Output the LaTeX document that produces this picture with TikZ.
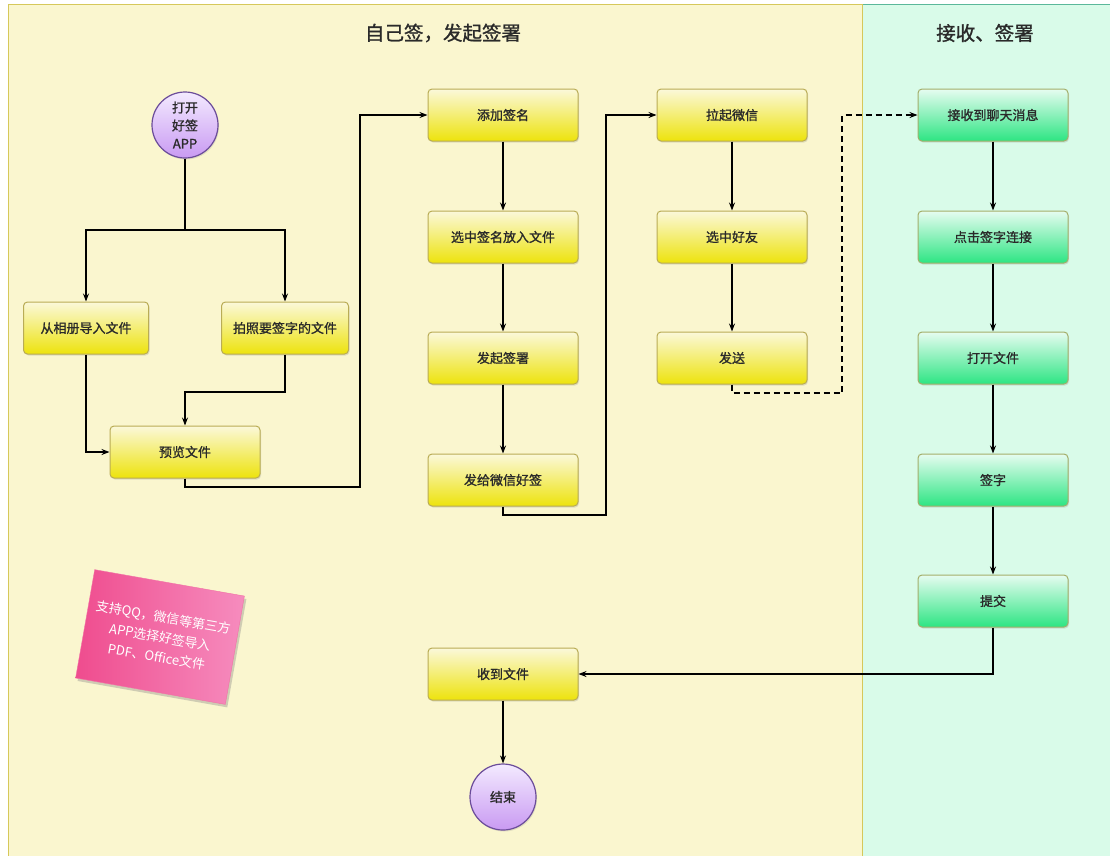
\documentclass[tikz,border=0pt]{standalone}
\usepackage{fontspec}
\setmainfont{Noto Sans CJK SC}
\newfontfamily\medfont{Noto Sans CJK SC}[FakeBold=1.2]
\usetikzlibrary{arrows.meta,shadows}
\definecolor{laneY}{HTML}{FAF6CF}
\definecolor{laneG}{HTML}{D9FBE9}
\definecolor{laneYb}{HTML}{D6C85A}
\definecolor{laneGb}{HTML}{5BB89A}
\definecolor{boxYt}{HTML}{FBF8DA}
\definecolor{boxYb}{HTML}{EDE30C}
\definecolor{boxYd}{HTML}{B9AC55}
\definecolor{boxGt}{HTML}{E6FCF0}
\definecolor{boxGb}{HTML}{2DE583}
\definecolor{boxGd}{HTML}{A3AE6A}
\definecolor{circT}{HTML}{F3EAFF}
\definecolor{circB}{HTML}{C99AF2}
\definecolor{circD}{HTML}{6B4C9A}
\definecolor{noteA}{HTML}{EF4C8E}
\definecolor{noteB}{HTML}{F68CBE}
\definecolor{txt}{HTML}{2A2A2A}
\tikzset{
  box/.style={line width=1pt, rounded corners=4pt, minimum height=52pt,
    font=\medfont\fontsize{13}{15}\selectfont, text=txt, inner sep=2pt,
    drop shadow={opacity=0.22, shadow xshift=1pt, shadow yshift=-1.5pt}},
  ybox/.style={box, draw=boxYd, top color=boxYt, bottom color=boxYb, minimum width=150pt},
  gbox/.style={box, draw=boxGd, top color=boxGt, bottom color=boxGb, minimum width=150pt},
  term/.style={circle, draw=circD, line width=1.2pt, minimum size=66pt, inner sep=0pt,
    top color=circT, bottom color=circB, align=center, text=txt,
    font=\medfont\fontsize{13}{18}\selectfont,
    drop shadow={opacity=0.2, shadow xshift=1pt, shadow yshift=-1.5pt}},
  flow/.style={-{Stealth[length=8pt,width=6pt]}, line width=1.1pt, black},
  plain/.style={line width=1.1pt, black},
  lanetitle/.style={font=\medfont\fontsize{19.5}{22}\selectfont, text=txt}
}
\begin{document}
\begin{tikzpicture}[x=1pt,y=1pt]
\useasboundingbox (0,0) rectangle (1110,-855);
\fill[white] (0,0) rectangle (1110,-855);
% lanes
\draw[fill=laneY, draw=laneYb, line width=1pt] (8,-4) rectangle (862,-858);
\draw[fill=laneG, draw=laneGb, line width=1pt] (862,-4) rectangle (1112,-858);
\draw[laneYb, line width=1pt] (862,-4) -- (862,-858);
\node[lanetitle] (t1) at (443,-33) {自己签，发起签署};
\node[lanetitle] (t2) at (985,-33) {接收、签署};

% nodes
\node[term] (start) at (185,-125) {打开\\好签\\APP};
\node[ybox, minimum width=125pt] (a1) at (86,-328) {从相册导入文件};
\node[ybox, minimum width=127pt] (a2) at (285,-328) {拍照要签字的文件};
\node[ybox] (pv) at (185,-452) {预览文件};
\node[ybox] (b1) at (503,-115) {添加签名};
\node[ybox] (b2) at (503,-237) {选中签名放入文件};
\node[ybox] (b3) at (503,-358) {发起签署};
\node[ybox] (b4) at (503,-480) {发给微信好签};
\node[ybox] (c1) at (732,-115) {拉起微信};
\node[ybox] (c2) at (732,-237) {选中好友};
\node[ybox] (c3) at (732,-358) {发送};
\node[gbox] (d1) at (993,-115) {接收到聊天消息};
\node[gbox] (d2) at (993,-237) {点击签字连接};
\node[gbox] (d3) at (993,-358) {打开文件};
\node[gbox] (d4) at (993,-480) {签字};
\node[gbox] (d5) at (993,-601) {提交};
\node[ybox] (rc) at (503,-674) {收到文件};
\node[term] (end) at (503,-797) {结束};

% note
\node[rotate=-10, minimum width=152pt, minimum height=110pt, left color=noteA, right color=noteB,
  draw=noteA!80, line width=0.4pt, align=center, text=white, font=\fontsize{13}{20}\selectfont,
  inner sep=2pt,
  drop shadow={opacity=0.35, shadow xshift=2pt, shadow yshift=-3pt}] (note) at (160,-637)
  {支持QQ，微信等第三方\\APP选择好签导入\\PDF、Office文件};

% connectors
\coordinate (s1) at (185,-230);
\draw[plain] (start.south) -- (s1);
\draw[flow] (s1) -| (a1.north);
\draw[flow] (s1) -| (a2.north);
\draw[flow] (a1.south) |- (pv.west);
\coordinate (s2) at (285,-392);
\draw[flow] (a2.south) -- (s2) -| (pv.north);
\coordinate (k1) at (360,-487);
\draw[flow] (pv.south) |- (k1) |- (b1.west);
\draw[flow] (b1) -- (b2);
\draw[flow] (b2) -- (b3);
\draw[flow] (b3) -- (b4);
\coordinate (k2) at (606,-515);
\draw[flow] (b4.south) |- (k2) |- (c1.west);
\draw[flow] (c1) -- (c2);
\draw[flow] (c2) -- (c3);
\coordinate (k3) at (842,-393);
\draw[flow, dashed, dash pattern=on 6pt off 4pt] (c3.south) |- (k3) |- (d1.west);
\draw[flow] (d1) -- (d2);
\draw[flow] (d2) -- (d3);
\draw[flow] (d3) -- (d4);
\draw[flow] (d4) -- (d5);
\draw[flow] (d5.south) |- (rc.east);
\draw[flow] (rc) -- (end);
\end{tikzpicture}
\end{document}
